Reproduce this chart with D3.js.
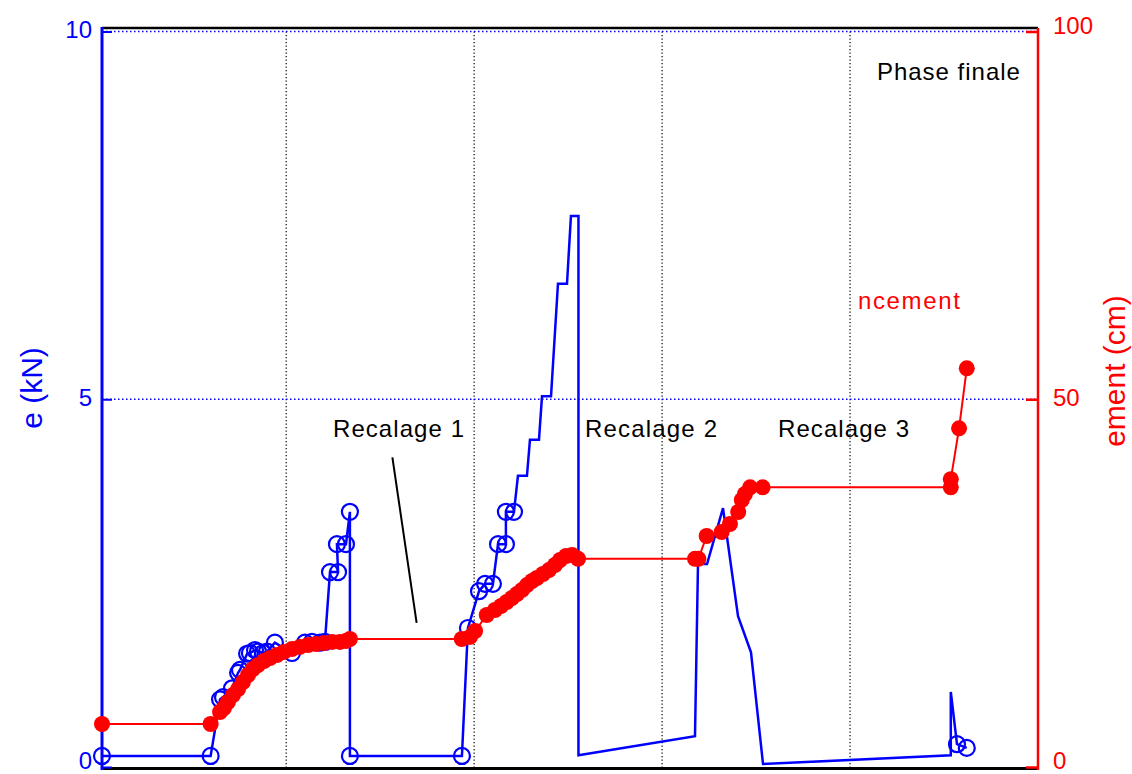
<!DOCTYPE html>
<html>
<head>
<meta charset="utf-8">
<script src="https://cdn.jsdelivr.net/npm/d3@7"></script>
<style>
  html, body { margin: 0; padding: 0; background: #fff; }
  svg { display: block; font-family: "Liberation Sans", Arial, sans-serif; }
</style>
</head>
<body>
<svg id="chart" width="1132" height="774"></svg>
<script>
// ---------- data ----------
// Force (kN), left axis, blue line
const forceX = [0.02, 0.598, 0.648, 0.664, 0.712, 0.744, 0.754, 0.792, 0.807, 0.834, 0.850, 0.877, 0.898, 0.940,
  1.031, 1.100, 1.137, 1.180, 1.206, 1.233, 1.276, 1.270, 1.318, 1.339, 1.339, 1.935, 1.967, 2.026, 2.058, 2.100,
  2.127, 2.169, 2.169, 2.212, 2.233, 2.281, 2.297, 2.345, 2.361, 2.409, 2.446, 2.494, 2.515, 2.555, 2.555,
  3.175, 3.191, 3.239, 3.324, 3.404, 3.473, 3.537, 4.536, 4.536, 4.569, 4.621];
const forceY = [0.15, 0.15, 0.92, 0.95, 1.07, 1.28, 1.32, 1.54, 1.55, 1.59, 1.57, 1.55, 1.57, 1.69,
  1.55, 1.69, 1.70, 1.69, 1.70, 2.65, 2.65, 3.03, 3.03, 3.47, 0.15, 0.15, 1.89, 2.39, 2.49, 2.49,
  3.03, 3.03, 3.47, 3.47, 3.96, 3.96, 4.45, 4.45, 5.04, 5.04, 6.57, 6.57, 7.49, 7.49, 0.16,
  0.42, 2.76, 2.76, 3.52, 2.05, 1.56, 0.04, 0.16, 1.02, 0.31, 0.26];
// which force points carry an open-circle marker
const forceMarked = [1,1,1,1,1,1,1,1,1,1,1,1,1,1,
  1,1,1,1,1,1,1,1,1,1,1,1,1,1,1,1,
  1,1,1,1,0,0,0,0,0,0,0,0,0,0,0,
  0,0,0,0,0,0,0,0,0,1,1];

// Displacement (cm), right axis, red line with filled dots
const dispX = [0.02, 0.598, 0.648, 0.669, 0.690, 0.717, 0.744, 0.770, 0.797, 0.823, 0.850, 0.882, 0.914, 0.951,
  0.988, 1.031, 1.073, 1.116, 1.159, 1.201, 1.244, 1.286, 1.318, 1.339,
  1.934, 1.978, 2.005, 2.067, 2.111, 2.143, 2.173, 2.201, 2.228, 2.255, 2.281, 2.308, 2.334, 2.366, 2.398,
  2.430, 2.457, 2.489, 2.521, 2.553,
  3.175, 3.193, 3.237, 3.317, 3.361, 3.405, 3.424, 3.441, 3.468, 3.535,
  4.536, 4.536, 4.580, 4.621];
const dispY = [5.85, 5.85, 7.48, 8.02, 8.84, 9.79, 10.60, 11.56, 12.51, 13.32, 13.87, 14.41, 14.82, 15.23,
  15.64, 16.04, 16.32, 16.59, 16.72, 16.86, 17.00, 17.00, 17.13, 17.40,
  17.40, 17.68, 18.49, 20.67, 21.35, 21.89, 22.43, 22.98, 23.52, 24.07, 24.74, 25.29, 25.70, 26.24, 26.78,
  27.46, 28.14, 28.69, 28.82, 28.30,
  28.30, 28.30, 31.41, 31.95, 33.04, 34.67, 36.30, 37.12, 38.03, 38.03,
  38.03, 39.12, 46.05, 54.21];

// axes
const xDomain = [0.02, 5];
const xGridTicks = [1, 2, 3, 4];
const leftTicks = [0, 5, 10];
const leftGrid = [5, 10];
const rightTicks = [0, 50, 100];
const leftLabel = "e (kN)";
const rightLabel = "ement (cm)";

// annotations (x in data units, y in kN)
const annoText = ["Recalage 1", "Recalage 2", "Recalage 3", "Phase finale"];
const annoX = [1.249, 2.590, 3.617, 4.143];
const annoY = [4.49, 4.49, 4.49, 9.34];
const annoWidth = [131, 132, 131, 143];
const redNoteText = "ncement";
const redNoteX = 4.042, redNoteY = 62.3;
const arrowX = [1.565, 1.694];
const arrowY = [4.21, 1.96];

// ---------- drawing ----------
const svg = d3.select("#chart");
const L = 102, R = 1038, T = 31.5, B = 767;
const x = d3.scaleLinear().domain(xDomain).range([L, R]);
const yL = d3.scaleLinear().domain([0, 10]).range([B, T]);
const yR = d3.scaleLinear().domain([0, 100]).range([B, T]);
const BLUE = "#0000ff", RED = "#ff0000";

// grid
svg.append("g").selectAll("line").data(xGridTicks).join("line")
  .attr("x1", d => x(d)).attr("x2", d => x(d)).attr("y1", T).attr("y2", B)
  .attr("stroke", "#000").attr("stroke-width", 1.2).attr("stroke-dasharray", "1.2,2.3");
svg.append("g").selectAll("line").data(leftGrid).join("line")
  .attr("x1", L).attr("x2", R).attr("y1", d => yL(d)).attr("y2", d => yL(d))
  .attr("stroke", BLUE).attr("stroke-width", 1.5).attr("stroke-dasharray", "1.5,2.5");

// frame top & bottom
svg.append("line").attr("x1", L).attr("x2", R).attr("y1", 28).attr("y2", 28)
  .attr("stroke", "#000").attr("stroke-width", 2.5);
svg.append("line").attr("x1", L).attr("x2", R).attr("y1", 768.5).attr("y2", 768.5)
  .attr("stroke", "#000").attr("stroke-width", 3);

// left axis
const axL = svg.append("g").attr("transform", `translate(${L},0)`)
  .call(d3.axisLeft(yL).tickValues(leftTicks).tickSizeInner(-10).tickSizeOuter(0).tickPadding(10).tickFormat(d3.format("d")));
axL.select(".domain").remove();
axL.selectAll(".tick line").attr("stroke", BLUE).attr("stroke-width", 2);
axL.selectAll(".tick text").attr("fill", BLUE).attr("font-size", 24)
  .attr("font-family", "Liberation Sans, Arial, sans-serif").attr("dy", d => d === 0 ? "0.05em" : "0.25em");
svg.append("line").attr("x1", L).attr("x2", L).attr("y1", 27).attr("y2", 770)
  .attr("stroke", BLUE).attr("stroke-width", 3);

// right axis
const axR = svg.append("g").attr("transform", `translate(${R},0)`)
  .call(d3.axisRight(yR).tickValues(rightTicks).tickSizeInner(-12).tickSizeOuter(0).tickPadding(15).tickFormat(d3.format("d")));
axR.select(".domain").remove();
axR.selectAll(".tick line").attr("stroke", RED).attr("stroke-width", 2.5);
axR.selectAll(".tick text").attr("fill", RED).attr("font-size", 24)
  .attr("font-family", "Liberation Sans, Arial, sans-serif").attr("dy", d => d === 100 ? "0.1em" : (d === 0 ? "0.05em" : "0.25em"));
svg.append("line").attr("x1", R).attr("x2", R).attr("y1", 28).attr("y2", 770)
  .attr("stroke", RED).attr("stroke-width", 2.5);

// axis titles
svg.append("text").attr("transform", `translate(42,${388}) rotate(-90)`)
  .attr("text-anchor", "middle").attr("fill", BLUE).attr("font-size", 30).text(leftLabel);
svg.append("text").attr("transform", `translate(1125,${371}) rotate(-90)`)
  .attr("text-anchor", "middle").attr("fill", RED).attr("font-size", 30).text(rightLabel);

// force series
const force = forceX.map((v, i) => ({ x: v, y: forceY[i], m: forceMarked[i] }));
svg.append("path").datum(force)
  .attr("d", d3.line().x(d => x(d.x)).y(d => yL(d.y)))
  .attr("fill", "none").attr("stroke", BLUE).attr("stroke-width", 2.5).attr("stroke-linejoin", "miter");
svg.append("g").selectAll("circle").data(force.filter(d => d.m)).join("circle")
  .attr("cx", d => x(d.x)).attr("cy", d => yL(d.y)).attr("r", 8)
  .attr("fill", "none").attr("stroke", BLUE).attr("stroke-width", 2.2);

// displacement series
const disp = dispX.map((v, i) => ({ x: v, y: dispY[i] }));
svg.append("path").datum(disp)
  .attr("d", d3.line().x(d => x(d.x)).y(d => yR(d.y)))
  .attr("fill", "none").attr("stroke", RED).attr("stroke-width", 2);
svg.append("g").selectAll("circle").data(disp).join("circle")
  .attr("cx", d => x(d.x)).attr("cy", d => yR(d.y)).attr("r", 8)
  .attr("fill", RED);

// annotations
svg.append("line")
  .attr("x1", x(arrowX[0])).attr("y1", yL(arrowY[0]))
  .attr("x2", x(arrowX[1])).attr("y2", yL(arrowY[1]))
  .attr("stroke", "#000").attr("stroke-width", 2);
svg.append("g").selectAll("text").data(annoText).join("text")
  .attr("x", (d, i) => x(annoX[i])).attr("y", (d, i) => yL(annoY[i]))
  .attr("textLength", (d, i) => annoWidth[i]).attr("lengthAdjust", "spacing")
  .attr("font-size", 24).attr("fill", "#000").text(d => d);
svg.append("text").attr("x", x(redNoteX)).attr("y", yR(redNoteY))
  .attr("textLength", 102).attr("lengthAdjust", "spacing")
  .attr("font-size", 24).attr("fill", RED).text(redNoteText);
</script>
</body>
</html>
